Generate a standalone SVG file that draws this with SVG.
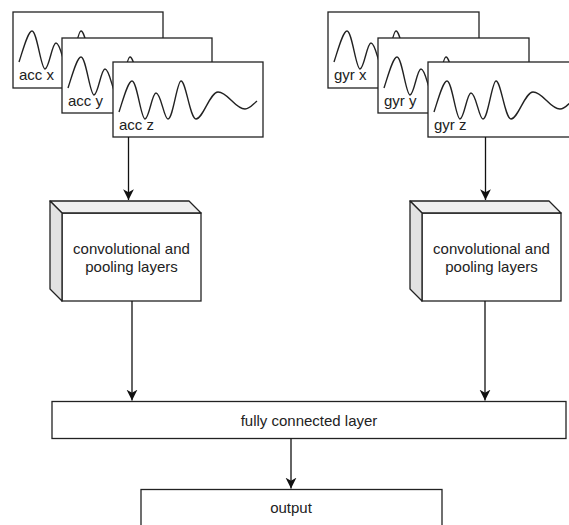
<svg xmlns="http://www.w3.org/2000/svg" xmlns:xlink="http://www.w3.org/1999/xlink" width="569" height="525" viewBox="0 0 569 525">
<style>
.box{fill:#fff;stroke:#222;stroke-width:1.3}
.wave{fill:none;stroke:#222;stroke-width:1.4}
.lbl{font-family:"Liberation Sans",Arial,sans-serif;font-size:15px;fill:#222}
.ctr{text-anchor:middle}
.edge{fill:none;stroke:#111;stroke-width:1.3}
.top{fill:#efefef;stroke:#222;stroke-width:1.3;stroke-linejoin:round}
.side{fill:#e2e2e2;stroke:#222;stroke-width:1.3;stroke-linejoin:round}
</style>
<defs>
<marker id="arr" markerUnits="userSpaceOnUse" markerWidth="12" markerHeight="12" viewBox="0 0 10 10" refX="9" refY="5" orient="auto">
<path d="M0,0.5 L9,5 L0,9.5 L2.5,5 Z" fill="#111"/>
</marker>
<path id="wv" class="wave" d="M6,50 C10,38 15,19 19,19 C24,19 28,57 32,57 C36,57 39,31 43,31 C48,31 51,57 55,57 C60,57 64,19 68,19 C73,19 77,57 83,57 C90,57 97,30 105,30 C115,30 122,47 132,47 C137,47 140,42 144,39"/>
</defs>

<g id="acc-x" transform="translate(13,12)">
<rect class="box" x="0" y="0" width="150" height="76"/>
<use xlink:href="#wv"/>
<text class="lbl" x="6" y="68">acc x</text>
</g>
<g id="acc-y" transform="translate(62,38)">
<rect class="box" x="0" y="0" width="150" height="75"/>
<use xlink:href="#wv"/>
<text class="lbl" x="6" y="68">acc y</text>
</g>
<g id="acc-z" transform="translate(113,62)">
<rect class="box" x="0" y="0" width="150" height="75"/>
<use xlink:href="#wv"/>
<text class="lbl" x="6" y="68">acc z</text>
</g>

<g id="gyr-x" transform="translate(328,12)">
<rect class="box" x="0" y="0" width="151" height="76"/>
<use xlink:href="#wv"/>
<text class="lbl" x="6" y="68">gyr x</text>
</g>
<g id="gyr-y" transform="translate(378,38)">
<rect class="box" x="0" y="0" width="151" height="75"/>
<use xlink:href="#wv"/>
<text class="lbl" x="6" y="68">gyr y</text>
</g>
<g id="gyr-z" transform="translate(428,62)">
<rect class="box" x="0" y="0" width="150" height="75"/>
<use xlink:href="#wv"/>
<text class="lbl" x="6" y="68">gyr z</text>
</g>

<g id="conv-left">
<rect class="box" x="62" y="213" width="139" height="88"/>
<polygon class="top" points="50,201 189,201 201,213 62,213"/>
<polygon class="side" points="50,201 62,213 62,301 50,289"/>
<text class="lbl ctr" x="131.5" y="254">convolutional and</text>
<text class="lbl ctr" x="131.5" y="272">pooling layers</text>
</g>
<g id="conv-right">
<rect class="box" x="422" y="213" width="139" height="88"/>
<polygon class="top" points="410,201 549,201 561,213 422,213"/>
<polygon class="side" points="410,201 422,213 422,301 410,289"/>
<text class="lbl ctr" x="491.5" y="254">convolutional and</text>
<text class="lbl ctr" x="491.5" y="272">pooling layers</text>
</g>

<g id="fully-connected">
<rect class="box" x="52" y="401.5" width="514" height="37"/>
<text class="lbl ctr" x="309" y="425.5">fully connected layer</text>
</g>

<g id="output">
<rect class="box" x="141" y="489.5" width="301" height="50"/>
<text class="lbl ctr" x="291" y="513">output</text>
</g>

<g id="connectors">
<line class="edge" x1="128.5" y1="137" x2="128.5" y2="200" marker-end="url(#arr)"/>
<line class="edge" x1="485.5" y1="137" x2="485.5" y2="200" marker-end="url(#arr)"/>
<line class="edge" x1="132" y1="301" x2="132" y2="400.5" marker-end="url(#arr)"/>
<line class="edge" x1="485" y1="301" x2="485" y2="400.5" marker-end="url(#arr)"/>
<line class="edge" x1="291" y1="438.5" x2="291" y2="488.5" marker-end="url(#arr)"/>
</g>
</svg>
